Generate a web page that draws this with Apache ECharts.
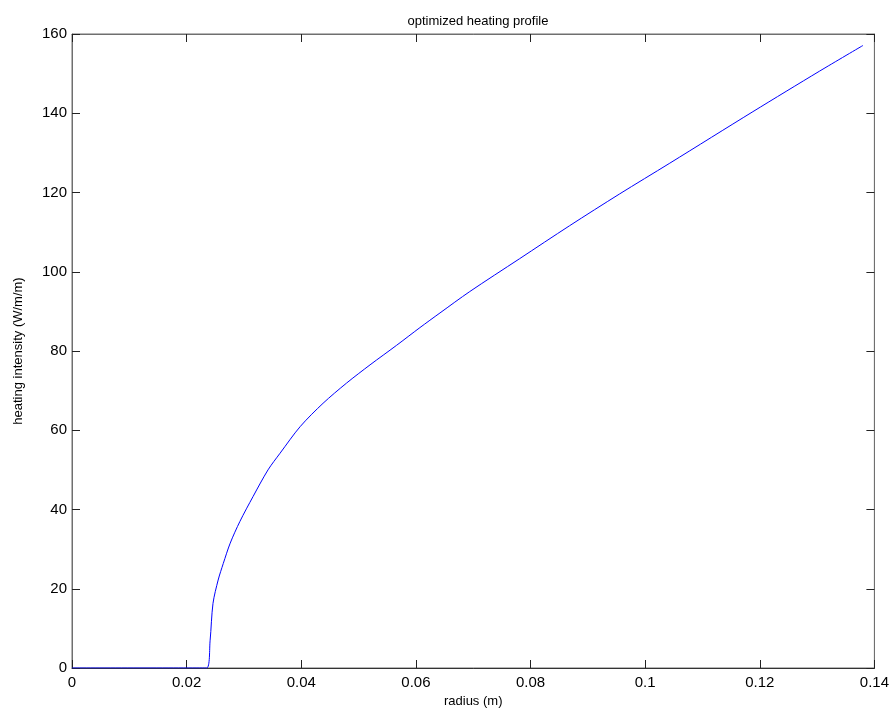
<!DOCTYPE html>
<html>
<head>
<meta charset="utf-8">
<script src="https://cdn.jsdelivr.net/npm/echarts@6/dist/echarts.min.js"></script>
<style>
  html, body { margin: 0; padding: 0; background: #fff; }
  #chart { width: 892px; height: 717px; }
</style>
</head>
<body>
<div id="chart"></div>
<script>
// radius (m) and heating intensity (W/m/m)
const radius = [0, 0.0235, 0.0241, 0.0246, 0.0255, 0.0264, 0.0276, 0.0293, 0.0316, 0.0342,
  0.0363, 0.0398, 0.0438, 0.0479, 0.0520, 0.0566, 0.0607, 0.0642, 0.0694, 0.0781,
  0.0868, 0.0955, 0.1043, 0.1188, 0.1304, 0.1380];
const intensity = [0, 0, 7.0, 16.3, 22.2, 26.4, 31.5, 37.0, 43.3, 50.0,
  54.2, 60.9, 66.8, 71.9, 76.5, 81.4, 85.9, 89.6, 95.0, 103.3,
  111.6, 119.6, 127.4, 140.4, 150.6, 157.1];

const xTicks = [0, 0.02, 0.04, 0.06, 0.08, 0.1, 0.12, 0.14];
const yTicks = [0, 20, 40, 60, 80, 100, 120, 140, 160];

const font = 'Liberation Sans, Arial, sans-serif';
const boxColor = '#6f6f6f';

const chart = echarts.init(document.getElementById('chart'));

// box axes (top / right) only carry inward ticks
function boxAxis(pos, isX) {
  const ticks = isX ? xTicks : yTicks;
  return {
    type: 'value',
    position: pos,
    min: ticks[0],
    max: ticks[ticks.length - 1],
    interval: ticks[1] - ticks[0],
    axisLine: { show: true, onZero: false, lineStyle: { color: boxColor, width: 1 } },
    axisTick: { show: true, inside: true, length: 8, lineStyle: { color: '#222' } },
    axisLabel: { show: false },
    splitLine: { show: false }
  };
}

const option = {
  animation: false,
  backgroundColor: '#fff',
  title: {
    text: 'optimized heating profile',
    left: 473,
    top: 10,
    textAlign: 'center',
    textStyle: { fontFamily: font, fontSize: 13, fontWeight: 'normal', color: '#000' }
  },
  grid: { left: 72, right: 17, top: 34, bottom: 49, show: true, borderColor: boxColor, borderWidth: 1 },
  xAxis: [
    {
      type: 'value',
      min: xTicks[0],
      max: xTicks[xTicks.length - 1],
      interval: 0.02,
      name: 'radius (m)',
      nameLocation: 'middle',
      nameGap: 23,
      nameTextStyle: { fontFamily: font, fontSize: 13, color: '#000' },
      axisLine: { show: true, onZero: false, lineStyle: { color: '#333', width: 1 } },
      axisTick: { show: true, inside: true, length: 8, lineStyle: { color: '#222' } },
      axisLabel: {
        margin: 7,
        fontFamily: font,
        fontSize: 15,
        color: '#000',
        formatter: v => String(+v.toFixed(2))
      },
      splitLine: { show: false }
    },
    boxAxis('top', true)
  ],
  yAxis: [
    {
      type: 'value',
      min: yTicks[0],
      max: yTicks[yTicks.length - 1],
      interval: 20,
      name: 'heating intensity (W/m/m)',
      nameLocation: 'middle',
      nameGap: 47,
      nameTextStyle: { fontFamily: font, fontSize: 13, color: '#000' },
      axisLine: { show: true, onZero: false, lineStyle: { color: boxColor, width: 1 } },
      axisTick: { show: true, inside: true, length: 8, lineStyle: { color: '#222' } },
      axisLabel: { margin: 5, fontFamily: font, fontSize: 15, color: '#000' },
      splitLine: { show: false }
    },
    boxAxis('right', false)
  ],
  series: [
    {
      type: 'line',
      xAxisIndex: 0,
      yAxisIndex: 0,
      data: radius.map((r, i) => [r, intensity[i]]),
      showSymbol: false,
      smooth: 0.3,
      lineStyle: { color: '#0000ff', width: 1 },
      z: 5
    },
    {
      // empty series so the top/right box axes get drawn
      type: 'line',
      xAxisIndex: 1,
      yAxisIndex: 1,
      data: [],
      silent: true
    }
  ]
};

chart.setOption(option);
</script>
</body>
</html>
